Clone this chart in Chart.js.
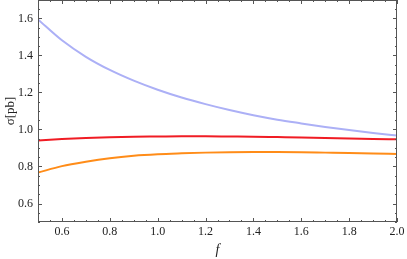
<!DOCTYPE html>
<html>
<head>
<meta charset="utf-8">
<script src="https://cdn.jsdelivr.net/npm/chart.js@4/dist/chart.umd.min.js"></script>
<style>
  html, body { margin: 0; padding: 0; background: #fff; }
  #wrap { width: 407px; height: 259px; }
</style>
</head>
<body>
<div id="wrap"><canvas id="c" width="407" height="259"></canvas></div>
<script>
const fValues = [0.5, 0.6, 0.7, 0.8, 0.9, 1.0, 1.1, 1.2, 1.3, 1.4, 1.5, 1.6, 1.7, 1.8, 1.9, 2.0];
const blueSigma   = [1.595, 1.482, 1.393, 1.322, 1.264, 1.215, 1.173, 1.137, 1.105, 1.077, 1.053, 1.033, 1.014, 0.997, 0.981, 0.967];
const redSigma    = [0.941, 0.948, 0.954, 0.958, 0.961, 0.962, 0.963, 0.963, 0.962, 0.961, 0.959, 0.957, 0.954, 0.952, 0.949, 0.947];
const orangeSigma = [0.767, 0.802, 0.826, 0.845, 0.858, 0.866, 0.871, 0.875, 0.877, 0.878, 0.878, 0.877, 0.875, 0.873, 0.870, 0.868];

const xTickLabels = [0.6, 0.8, 1.0, 1.2, 1.4, 1.6, 1.8, 2.0];
const yTickLabels = [0.6, 0.8, 1.0, 1.2, 1.4, 1.6];

const pts = (ys) => fValues.map((x, i) => ({ x, y: ys[i] }));

const serif = '"Liberation Serif"';

// cornice stile Mathematica con tacche interne su tutti i lati
const framePlugin = {
  id: 'frame',
  afterDatasetsDraw(chart) {
    const { ctx, chartArea: a, scales: { x, y } } = chart;
    ctx.save();
    ctx.strokeStyle = '#555';
    ctx.lineWidth = 1;
    ctx.strokeRect(a.left + 0.5, a.top + 0.5, a.right - a.left - 1, a.bottom - a.top - 1);
    ctx.beginPath();
    const minorStep = 0.05;
    for (let v = x.min; v <= x.max + 1e-9; v += minorStep) {
      const px = Math.round(x.getPixelForValue(v)) + 0.5;
      const major = xTickLabels.some(t => Math.abs(t - v) < 1e-6);
      const len = major ? 4 : 2;
      ctx.moveTo(px, a.bottom); ctx.lineTo(px, a.bottom - len);
      ctx.moveTo(px, a.top); ctx.lineTo(px, a.top + len);
    }
    for (let v = y.min; v <= y.max + 1e-9; v += minorStep) {
      const py = Math.round(y.getPixelForValue(v)) + 0.5;
      const major = yTickLabels.some(t => Math.abs(t - v) < 1e-6);
      const len = major ? 4 : 2;
      ctx.moveTo(a.left, py); ctx.lineTo(a.left + len, py);
      ctx.moveTo(a.right, py); ctx.lineTo(a.right - len, py);
    }
    ctx.stroke();
    ctx.restore();
  }
};

const line = (ys, color) => ({
  data: pts(ys),
  borderColor: color,
  borderWidth: 2,
  pointRadius: 0,
  fill: false,
  cubicInterpolationMode: 'monotone'
});

new Chart(document.getElementById('c'), {
  type: 'line',
  data: {
    datasets: [
      line(blueSigma, 'rgb(172, 176, 246)'),
      line(redSigma, 'rgb(240, 28, 36)'),
      line(orangeSigma, 'rgb(255, 140, 24)')
    ]
  },
  options: {
    responsive: false,
    animation: false,
    devicePixelRatio: 1,
    layout: { padding: { left: 0, right: 10, top: 0, bottom: 0 } },
    plugins: { legend: { display: false }, tooltip: { enabled: false } },
    scales: {
      x: {
        type: 'linear',
        min: 0.5,
        max: 2.0,
        afterBuildTicks: s => { s.ticks = xTickLabels.map(v => ({ value: v })); },
        afterFit: s => { s.height = 37; s.paddingLeft = 0; s.paddingRight = 0; },
        grid: { display: false, drawTicks: false },
        border: { display: false },
        ticks: {
          padding: 3,
          maxRotation: 0,
          color: '#222',
          font: { family: serif, size: 12 },
          callback: v => v.toFixed(1)
        },
        title: {
          display: true,
          text: 'f',
          color: '#222',
          padding: { top: 0, bottom: 0 },
          font: { family: serif, size: 14, style: 'italic' }
        }
      },
      y: {
        type: 'linear',
        min: 0.5,
        max: 1.7,
        afterBuildTicks: s => { s.ticks = yTickLabels.map(v => ({ value: v })); },
        afterFit: s => { s.width = 38; s.paddingTop = 0; s.paddingBottom = 0; },
        grid: { display: false, drawTicks: false },
        border: { display: false },
        ticks: {
          padding: 5,
          color: '#222',
          font: { family: serif, size: 12 },
          callback: v => v.toFixed(1)
        },
        title: {
          display: true,
          text: 'σ[pb]',
          color: '#222',
          padding: { top: 3, bottom: 0 },
          font: { family: serif, size: 13 }
        }
      }
    }
  },
  plugins: [framePlugin]
});
</script>
</body>
</html>
